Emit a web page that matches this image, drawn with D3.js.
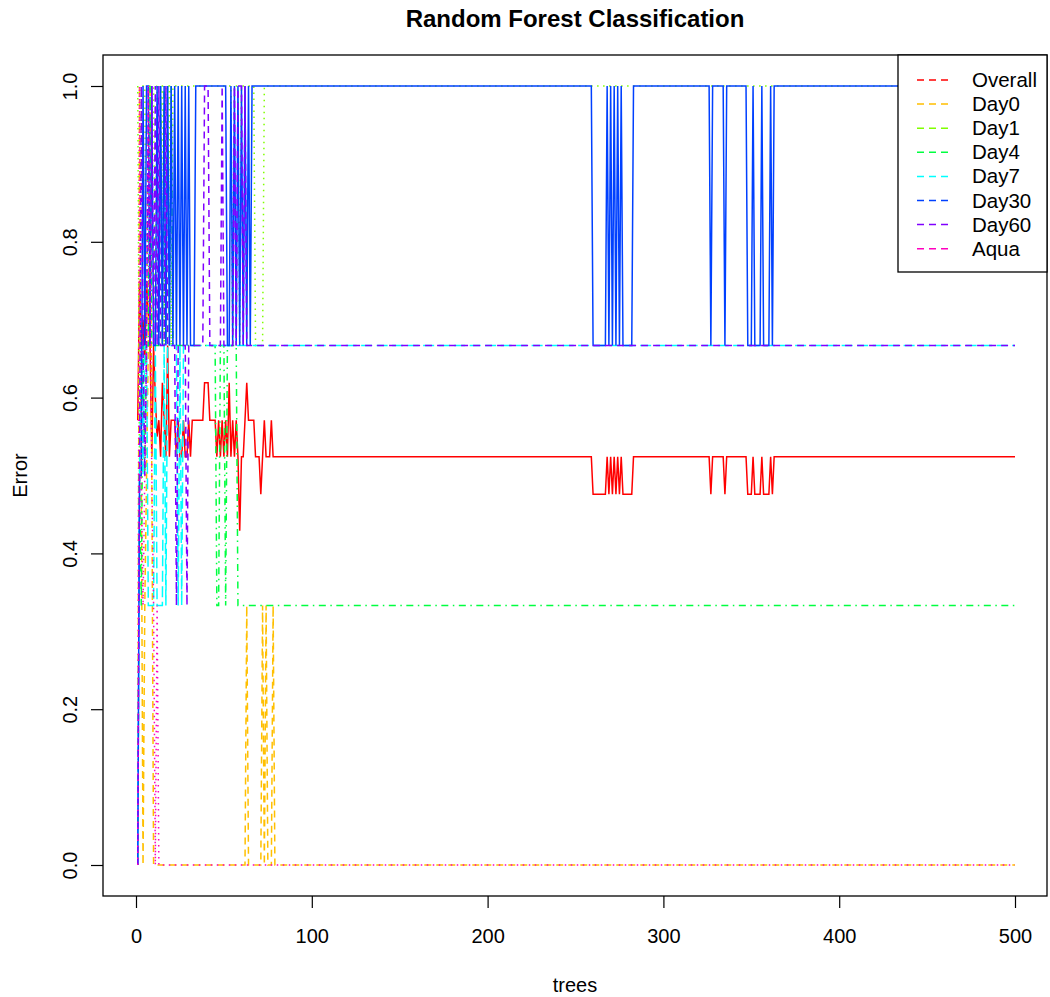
<!DOCTYPE html>
<html>
<head>
<meta charset="utf-8">
<script src="https://cdn.jsdelivr.net/npm/d3@7"></script>
<style>
  body { margin: 0; background: #fff; }
  text { font-family: "Liberation Sans", Arial, sans-serif; fill: #000; }
</style>
</head>
<body>
<div id="chart"></div>
<script>
// series names, colours and line types (R matplot style)
var seriesNames = ["Overall", "Day0", "Day1", "Day4", "Day7", "Day30", "Day60", "Aqua"];
var seriesColors = ["#FF0000", "#FFBF00", "#80FF00", "#00FF40", "#00FFFF", "#0040FF", "#8000FF", "#FF00BF"];
var seriesDash = ["none", "7,5", "1.5,4.5", "1.5,4.5,7,4.5", "11,4.5", "none", "7,5", "1.5,4.5"];

var xTicks = [0, 100, 200, 300, 400, 500];
var yTicks = [0, 0.2, 0.4, 0.6, 0.8, 1.0];

// OOB error values, as [tree, error] corner points
var overall = [[1,0.571],[2,0.75],[3,0.667],[4,0.7],[5,0.643],[6,0.75],[7,0.706],[8,0.667],[9,0.524],[10,0.667],
  [11,0.6],[12,0.55],[13,0.571],[14,0.524],[15,0.619],[16,0.571],[17,0.524],[18,0.667],[19,0.524],[20,0.571],
  [22,0.571],[23,0.524],[24,0.571],[25,0.524],[26,0.524],[27,0.571],[28,0.524],[29,0.524],[30,0.571],[31,0.524],
  [32,0.571],[38,0.571],[39,0.619],[41,0.619],[42,0.571],[45,0.571],[46,0.524],[47,0.571],[48,0.524],[49,0.571],
  [50,0.524],[51,0.571],[52,0.524],[53,0.619],[54,0.524],[55,0.571],[56,0.524],[57,0.571],[58,0.524],[59,0.429],
  [60,0.524],[61,0.524],[62,0.571],[63,0.619],[64,0.571],[67,0.571],[68,0.524],[70,0.524],[71,0.476],[72,0.524],
  [73,0.571],[74,0.524],[76,0.524],[77,0.571],[78,0.524],
  [259,0.524],[260,0.476],[267,0.476],[268,0.524],[269,0.476],[270,0.524],[271,0.476],[272,0.524],[273,0.476],
  [274,0.524],[275,0.476],[276,0.524],[277,0.476],[282,0.476],[283,0.524],[326,0.524],[327,0.476],[328,0.524],
  [334,0.524],[335,0.476],[336,0.524],[347,0.524],[348,0.476],[350,0.476],[351,0.524],[352,0.476],[355,0.476],
  [356,0.524],[357,0.476],[360,0.476],[361,0.524],[362,0.476],[363,0.524],[500,0.524]];

var day0 = [[1,0],[2,1],[3,0.5],[4,0],[5,0.333],[6,0.5],[7,0.667],[8,1],[9,0.5],[10,0],[62,0],[63,0.333],[64,0],
  [71,0],[72,0.333],[73,0],[74,0.333],[75,0],[77,0],[78,0.333],[79,0],[500,0]];

var day1 = [[1,1],[2,0.5],[3,1],[5,1],[6,0.667],[7,1],[10,1],[11,0.667],[12,1],[15,1],[16,0.667],[17,1],[19,1],
  [20,0.667],[21,1],[54,1],[55,0.667],[56,1],[58,1],[59,0.667],[60,1],[67,1],[68,0.667],[72,0.667],[73,1],[500,1]];

var day4 = [[1,0],[2,0.5],[3,0.333],[4,0.667],[5,0.5],[6,0.667],[7,0.667],[8,1],[9,0.667],[13,0.667],[14,1],
  [15,0.667],[16,1],[17,0.667],[18,1],[19,0.667],[20,1],[21,0.667],[45,0.667],[46,0.333],[47,0.333],[48,0.667],
  [50,0.667],[51,0.333],[52,0.667],[57,0.667],[58,0.333],[500,0.333]];

var day7 = [[1,0],[2,0.5],[3,0.667],[4,0.5],[5,0.667],[6,0.667],[7,0.333],[10,0.333],[11,0.667],[12,0.333],
  [15,0.333],[16,0.667],[17,0.333],[18,0.667],[23,0.667],[24,0.333],[25,0.667],[26,0.333],[27,0.667],[500,0.667]];

var day30 = [[1,0],[2,0.5],[3,0.5],[4,1],[5,0.667],[6,1],[7,1],[8,0.667],[9,1],[10,0.667],[11,0.667],[12,1],
  [13,0.667],[14,1],[15,0.667],[16,1],[17,0.667],[18,1],[19,0.667],[20,1],[21,0.667],[22,1],[23,0.667],[24,1],
  [25,0.667],[26,1],[27,0.667],[28,1],[29,0.667],[30,1],[31,0.667],[33,0.667],[34,1],[51,1],[52,0.667],[53,0.667],
  [54,1],[55,0.667],[56,1],[57,0.667],[58,1],[59,0.667],[60,1],[61,0.667],[62,1],[63,0.667],[64,1],[65,0.667],
  [66,1],[259,1],[260,0.667],[267,0.667],[268,1],[269,0.667],[270,1],[271,0.667],[272,1],[273,0.667],[274,1],
  [275,0.667],[276,1],[277,0.667],[282,0.667],[283,1],[326,1],[327,0.667],[328,1],[334,1],[335,0.667],[336,1],
  [347,1],[348,0.667],[350,0.667],[351,1],[352,0.667],[355,0.667],[356,1],[357,0.667],[360,0.667],[361,1],
  [362,0.667],[363,1],[500,1]];

var day60 = [[1,0],[2,0.5],[3,1],[4,0.667],[5,0.5],[6,0.667],[7,1],[8,0.667],[9,1],[10,0.667],[11,1],[12,0.667],
  [13,1],[14,0.667],[16,0.667],[17,1],[18,0.667],[22,0.667],[23,0.333],[24,0.667],[28,0.667],[29,0.333],
  [30,0.667],[38,0.667],[39,1],[41,1],[42,0.667],[48,0.667],[49,1],[50,0.667],[55,0.667],[56,1],[57,0.667],
  [58,1],[60,1],[61,0.667],[62,1],[63,0.667],[500,0.667]];

var aqua = [[1,0],[2,1],[3,0.5],[4,0.333],[5,0.5],[6,0.667],[7,1],[8,0.75],[9,0.5],[10,0.333],[11,0],
  [12,0.333],[13,0],[500,0]];

var allSeries = [overall, day0, day1, day4, day7, day30, day60, aqua];

var svgWidth = 1050;
var svgHeight = 997;
var box = { left: 103, right: 1047, top: 55, bottom: 896 };

var svg = d3.select("#chart")
  .append("svg")
  .attr("width", svgWidth)
  .attr("height", svgHeight);

var xScale = d3.scaleLinear().domain([0, 500]).range([136, 1015]);
var yScale = d3.scaleLinear().domain([0, 1]).range([865, 86]);

svg.append("clipPath").attr("id", "plotclip")
  .append("rect")
  .attr("x", box.left).attr("y", box.top)
  .attr("width", box.right - box.left).attr("height", box.bottom - box.top);

// lines, drawn in column order like matplot
var line = d3.line()
  .x(d => xScale(d[0]))
  .y(d => yScale(d[1]));

var linesGroup = svg.append("g").attr("clip-path", "url(#plotclip)");
allSeries.forEach(function(s, i) {
  linesGroup.append("path")
    .datum(s)
    .attr("d", line)
    .attr("fill", "none")
    .attr("stroke", seriesColors[i])
    .attr("stroke-width", 1.5)
    .attr("stroke-dasharray", seriesDash[i]);
});

// box around the plot
svg.append("rect")
  .attr("x", box.left).attr("y", box.top)
  .attr("width", box.right - box.left).attr("height", box.bottom - box.top)
  .attr("fill", "none")
  .attr("stroke", "#000")
  .attr("stroke-width", 1.3);

// axes
var xAxis = svg.append("g")
  .attr("transform", `translate(0, ${box.bottom})`)
  .call(d3.axisBottom(xScale).tickValues(xTicks).tickSize(12).tickPadding(0).tickSizeOuter(0));
xAxis.select(".domain").remove();
xAxis.selectAll("line").attr("stroke", "#000").attr("stroke-width", 1.2);
xAxis.selectAll("text")
  .attr("y", 47).attr("dy", 0)
  .style("font-size", "20px")
  .style("font-family", "Liberation Sans, Arial, sans-serif");

var yAxis = svg.append("g")
  .attr("transform", `translate(${box.left}, 0)`)
  .call(d3.axisLeft(yScale).tickValues(yTicks).tickFormat(d3.format(".1f")).tickSize(12).tickSizeOuter(0));
yAxis.select(".domain").remove();
yAxis.selectAll("line").attr("stroke", "#000").attr("stroke-width", 1.2);
yAxis.selectAll("text")
  .attr("x", 0).attr("dy", 0)
  .attr("text-anchor", "middle")
  .attr("transform", "translate(-26, 0) rotate(-90)")
  .style("font-size", "20px")
  .style("font-family", "Liberation Sans, Arial, sans-serif");

// title and axis labels
svg.append("text")
  .attr("x", (box.left + box.right) / 2)
  .attr("y", 27)
  .attr("text-anchor", "middle")
  .style("font-size", "24px")
  .style("font-weight", "bold")
  .text("Random Forest Classification");

svg.append("text")
  .attr("x", (box.left + box.right) / 2)
  .attr("y", 992)
  .attr("text-anchor", "middle")
  .style("font-size", "20px")
  .text("trees");

svg.append("text")
  .attr("transform", `translate(27, ${(box.top + box.bottom) / 2}) rotate(-90)`)
  .attr("text-anchor", "middle")
  .style("font-size", "20px")
  .text("Error");

// legend (all dashed, as in the R call)
var legend = svg.append("g");
legend.append("rect")
  .attr("x", 898).attr("y", box.top)
  .attr("width", box.right - 898).attr("height", 217)
  .attr("fill", "#fff")
  .attr("stroke", "#000")
  .attr("stroke-width", 1.3);

seriesNames.forEach(function(name, i) {
  var ly = 80 + i * 24.1;
  legend.append("line")
    .attr("x1", 917).attr("x2", 953)
    .attr("y1", ly).attr("y2", ly)
    .attr("stroke", seriesColors[i])
    .attr("stroke-width", 1.5)
    .attr("stroke-dasharray", "7,5");
  legend.append("text")
    .attr("x", 972).attr("y", ly + 7)
    .style("font-size", "20.5px")
    .text(name);
});
</script>
</body>
</html>
